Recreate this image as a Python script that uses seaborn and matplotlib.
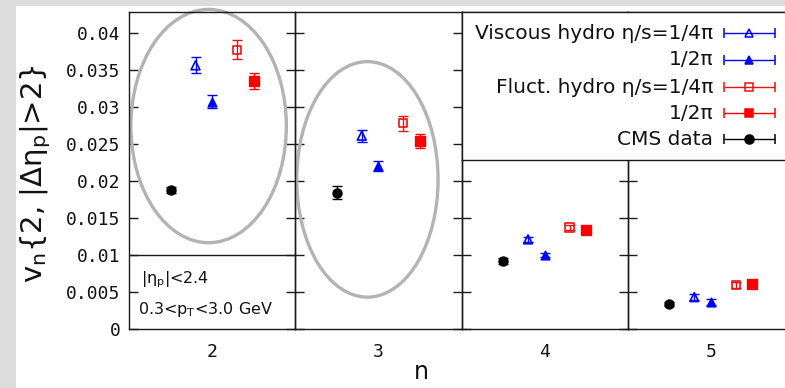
import numpy as np
import pandas as pd
import matplotlib
matplotlib.use("Agg")
import matplotlib.pyplot as plt
import seaborn as sns
from matplotlib.patches import Ellipse, Rectangle

# ---- data -------------------------------------------------------------
harmonics = [2, 3, 4, 5]
series_keys = ["visc_4pi", "visc_2pi", "fluct_4pi", "fluct_2pi", "cms"]
legend_labels = ["Viscous hydro η/s=1/4π", "1/2π", "Fluct. hydro η/s=1/4π", "1/2π", "CMS data"]

visc_4pi_v = [0.0356, 0.0261, 0.0121, 0.0043]
visc_4pi_err = [0.0011, 0.0008, 0.0003, 0.0004]
visc_2pi_v = [0.0307, 0.0220, 0.0100, 0.0037]
visc_2pi_err = [0.0009, 0.0007, 0.0003, 0.0004]
fluct_4pi_v = [0.0377, 0.0278, 0.0137, 0.0059]
fluct_4pi_err = [0.0013, 0.0010, 0.0004, 0.0004]
fluct_2pi_v = [0.0335, 0.0254, 0.0133, 0.0061]
fluct_2pi_err = [0.0011, 0.0009, 0.0003, 0.0003]
cms_v = [0.0188, 0.0184, 0.0092, 0.0034]
cms_err = [0.0004, 0.0009, 0.0004, 0.0003]

ytick_values = [0, 0.005, 0.01, 0.015, 0.02, 0.025, 0.03, 0.035, 0.04]
ytick_labels = ["0", "0.005", "0.01", "0.015", "0.02", "0.025", "0.03", "0.035", "0.04"]

# ---- styling ----------------------------------------------------------
values = {"visc_4pi": (visc_4pi_v, visc_4pi_err), "visc_2pi": (visc_2pi_v, visc_2pi_err),
          "fluct_4pi": (fluct_4pi_v, fluct_4pi_err), "fluct_2pi": (fluct_2pi_v, fluct_2pi_err),
          "cms": (cms_v, cms_err)}
offset = {"cms": -0.25, "visc_4pi": -0.10, "visc_2pi": 0.0, "fluct_4pi": 0.15, "fluct_2pi": 0.25}
color = {"visc_4pi": "#0000ff", "visc_2pi": "#0000ff", "fluct_4pi": "#ee1111",
         "fluct_2pi": "#ff0000", "cms": "#000000"}
marker = {"visc_4pi": "^", "visc_2pi": "^", "fluct_4pi": "s", "fluct_2pi": "s", "cms": "o"}
msize = {"visc_4pi": 40, "visc_2pi": 40, "fluct_4pi": 36, "fluct_2pi": 42, "cms": 42}
hollow = {"visc_4pi": True, "visc_2pi": False, "fluct_4pi": True, "fluct_2pi": False, "cms": False}

rows = []
for key in series_keys:
    vals, errs = values[key]
    for n, v, e in zip(harmonics, vals, errs):
        rows.append({"n": n, "series": key, "x": n + offset[key], "v": v, "err": e})
df = pd.DataFrame(rows)

sns.set_theme(style="white")
plt.rcParams["font.family"] = ["DejaVu Sans"]
plt.rcParams["mathtext.default"] = "regular"

W, H = 785, 388
fig = plt.figure(figsize=(W / 100, H / 100), dpi=100)
fig.patch.set_facecolor("#dcdcdc")


def fx(px):
    return px / W


def fy(py):
    return 1 - py / H


fig.add_artist(Rectangle((fx(16), 0), 1, fy(6), transform=fig.transFigure,
                         facecolor="white", edgecolor="none", zorder=-10))

L, R, T, B = 129, 794, 12, 329
ymax = 0.0428
pw = (R - L) / len(harmonics)
frame = "#1a1a1a"
mono = "DejaVu Sans Mono"

axes = []
for i, n in enumerate(harmonics):
    ax = fig.add_axes([fx(L + i * pw), fy(B), pw / W, (B - T) / H])
    ax.set_facecolor("none")
    sub = df[df["n"] == n]
    for key in series_keys:
        d = sub[sub["series"] == key]
        ax.errorbar(d["x"], d["v"], yerr=d["err"], fmt="none", ecolor=color[key],
                    elinewidth=1.0, capsize=3.6, capthick=1.0, zorder=2)
        sns.scatterplot(data=d, x="x", y="v", marker=marker[key], color=color[key],
                        s=msize[key], edgecolor=color[key], linewidth=1.0,
                        legend=False, ax=ax, zorder=3)
        if hollow[key]:
            pts = ax.collections[-1]
            pts.set_facecolor("none")
            pts.set_edgecolor(color[key])
            pts.set_linewidth(1.2)
    ax.set_xlim(n - 0.5, n + 0.5)
    ax.set_ylim(0, ymax)
    ax.set_xlabel("")
    ax.set_ylabel("")
    ax.set_xticks([n])
    ax.set_xticklabels([str(n)])
    ax.set_yticks(ytick_values)
    ax.set_yticklabels(ytick_labels if i == 0 else [])
    ax.tick_params(axis="x", length=0, pad=10, labelsize=13, labelcolor="#111111",
                   labelfontfamily=mono)
    ax.tick_params(axis="y", direction="in", left=True, right=True, length=6.5,
                   width=1.0, color=frame, pad=6, labelsize=13, labelcolor="#111111",
                   labelleft=(i == 0), labelfontfamily=mono)
    for sp in ax.spines.values():
        sp.set_color(frame)
        sp.set_linewidth(1.0)
        sp.set_visible(True)
    axes.append(ax)

ax2, ax3 = axes[0], axes[1]

# grouping ellipses around n=2 and n=3
ell_kw = dict(facecolor="none", edgecolor="#b3b3b3", linewidth=2.4, clip_on=False, zorder=1)
ax2.add_patch(Ellipse((1.979, 0.0274), width=0.935, height=0.0315, **ell_kw))
ax3.add_patch(Ellipse((2.934, 0.0202), width=0.85, height=0.0318, **ell_kw))

# kinematic cuts box in the n=2 panel
ax2.axhline(0.01, color=frame, linewidth=1.0, zorder=4)
ax2.text(0.07, 0.155, "|η$_{p}$|<2.4", transform=ax2.transAxes, fontsize=11.5,
         ha="left", va="center", color="#111111")
ax2.text(0.055, 0.063, "0.3<p$_{T}$<3.0 GeV", transform=ax2.transAxes, fontsize=11.5,
         ha="left", va="center", color="#111111")

# legend box over the n=4,5 panels
leg_bottom = 0.0228
leg_py = B - leg_bottom / ymax * (B - T)
axl = fig.add_axes([fx(L + 2 * pw), fy(leg_py), (R - L - 2 * pw) / W, (leg_py - T) / H])
axl.set_zorder(5)
axl.set_facecolor("white")
axl.set_xlim(0, 1)
axl.set_ylim(0, 1)
axl.set_xticks([])
axl.set_yticks([])
for sp in axl.spines.values():
    sp.set_color(frame)
    sp.set_linewidth(1.0)
row_y = [0.858, 0.676, 0.493, 0.318, 0.142]
for key, lab, yr in zip(series_keys, legend_labels, row_y):
    axl.text(0.757, yr, lab, fontsize=14.5, ha="right", va="center", color="#111111")
    axl.errorbar([0.866], [yr], xerr=[0.0766], fmt=marker[key], color=color[key],
                 ms=5.5 if marker[key] != "o" else 6.5,
                 mfc="none" if hollow[key] else color[key], mec=color[key], mew=1.1,
                 elinewidth=1.0, capsize=3.4, capthick=1.0)

fig.text(fx(36), fy(174), "v$_{n}${2, |Δη$_{p}$|>2}", rotation=90, fontsize=21,
         ha="center", va="center", color="#111111")
fig.text(fx(421), fy(372), "n", fontsize=17, ha="center", va="center", color="#111111")

fig.savefig("out.png", dpi=100, facecolor=fig.get_facecolor())
